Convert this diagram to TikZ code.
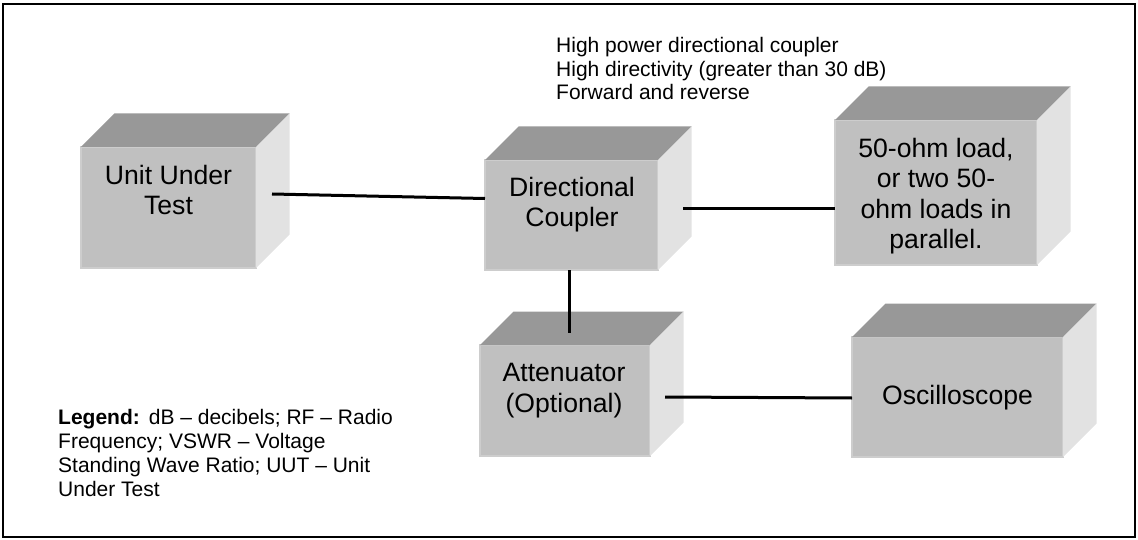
\documentclass[tikz,border=0pt]{standalone}
\usepackage{fontspec}
\setmainfont{Liberation Sans}
\usetikzlibrary{calc}

\definecolor{frontgray}{RGB}{192,192,192}
\definecolor{topgray}{RGB}{152,152,152}
\definecolor{sidegray}{RGB}{226,226,226}
\definecolor{edgegray}{RGB}{205,205,205}

\tikzset{
  cubeface/.style={rectangle, fill=frontgray, draw=edgegray, line width=1.2pt,
    inner sep=0pt, outer sep=0pt},
  boxtext/.style={inner sep=0pt, anchor=north, align=center,
    font=\fontsize{26.6}{30.5}\selectfont},
  notetext/.style={inner sep=0pt, anchor=north west, align=left,
    font=\fontsize{21}{23.6}\selectfont},
  legendtext/.style={inner sep=0pt, anchor=north west, align=left,
    font=\fontsize{21}{24}\selectfont},
  wire/.style={line width=3pt, black},
}

% top and right faces of a cube whose front face is node #1
\newcommand{\cubedepth}[1]{%
  \fill[topgray] (#1.north west) -- ++(33.5,-33.5)
     -- ($(#1.north east)+(33.5,-33.5)$) -- (#1.north east) -- cycle;
  \fill[sidegray] (#1.north east) -- ++(33.5,-33.5)
     -- ($(#1.south east)+(33.5,-33.5)$) -- (#1.south east) -- cycle;
}

\begin{document}
\begin{tikzpicture}[x=1pt,y=-1pt]
\useasboundingbox (0,0) rectangle (1138,540);
\draw[line width=2.5pt] (3,4) rectangle (1135,537);

% equipment blocks (front faces)
\node[cubeface, minimum width=175pt, minimum height=121pt] (uut)  at (168.5,207.5) {};
\node[cubeface, minimum width=173pt, minimum height=110pt] (dc)   at (571.5,215) {};
\node[cubeface, minimum width=202pt, minimum height=145pt] (load) at (936,192.5) {};
\node[cubeface, minimum width=170pt, minimum height=111pt] (att)  at (565,400.5) {};
\node[cubeface, minimum width=211pt, minimum height=120pt] (osc)  at (957.5,397) {};

\cubedepth{uut}
\cubedepth{dc}
\cubedepth{load}
\cubedepth{att}
\cubedepth{osc}

% block labels
\node[boxtext] (uutlabel)  at (168.5,165) {Unit Under\\Test};
\node[boxtext] (dclabel)   at (572,177)   {Directional\\Coupler};
\node[boxtext] (loadlabel) at (936,138)   {50-ohm load,\\or two 50-\\ohm loads in\\parallel.};
\node[boxtext] (attlabel)  at (564,363)   {Attenuator\\(Optional)};
\node[boxtext] (osclabel)  at (957.5,385) {Oscilloscope};

% cabling
\draw[wire] ($(uut.east)+(16,-13.5)$) -- ($(dc.west)+(0,-16.5)$);
\draw[wire] ($(dc.east)+(25,-6)$) -- ($(load.west)+(0,16.5)$);
\draw[wire] ($(dc.south)+(-2.5,0)$) -- ($(att.north)+(4,-12)$);
\draw[wire] ($(att.east)+(15,-3.5)$) -- ($(osc.west)+(0,1)$);

% notes
\node[notetext] (couplernote) at (556,37)
  {High power directional coupler\\High directivity (greater than 30 dB)\\Forward and reverse};
\node[legendtext] (legend) at (58,409)
  {\textbf{Legend:}\hspace{9pt}dB – decibels; RF – Radio\\Frequency; VSWR – Voltage\\Standing Wave Ratio; UUT – Unit\\Under Test};
\end{tikzpicture}
\end{document}
